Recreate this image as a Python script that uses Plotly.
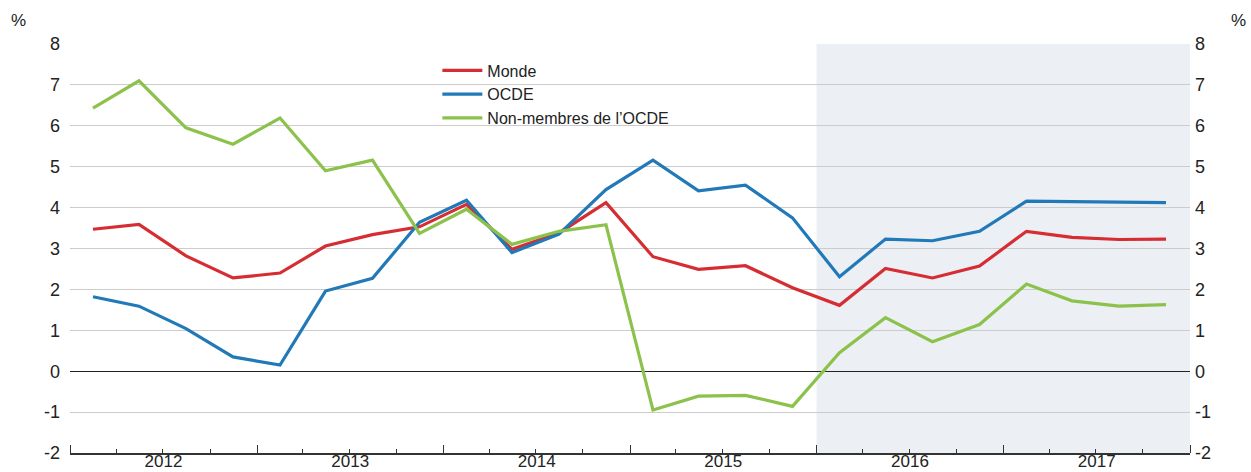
import plotly.graph_objects as go

quarters = [f"{y}-{m:02d}-15" for y in range(2012, 2018) for m in (2, 5, 8, 11)]

monde = [3.47, 3.59, 2.82, 2.28, 2.40, 3.06, 3.34, 3.53, 4.08, 2.98, 3.38, 4.12,
         2.80, 2.49, 2.58, 2.04, 1.61, 2.51, 2.28, 2.57, 3.42, 3.27, 3.22, 3.23]
ocde = [1.82, 1.59, 1.04, 0.35, 0.15, 1.96, 2.27, 3.64, 4.18, 2.90, 3.35, 4.44,
        5.16, 4.41, 4.55, 3.75, 2.31, 3.23, 3.19, 3.42, 4.16, 4.15, 4.13, 4.12]
non_ocde = [6.43, 7.10, 5.95, 5.55, 6.19, 4.90, 5.16, 3.37, 3.96, 3.10, 3.42, 3.58,
            -0.95, -0.61, -0.59, -0.86, 0.45, 1.31, 0.72, 1.14, 2.13, 1.72, 1.59, 1.63]

series_names = ["Monde", "OCDE", "Non-membres de l\u2019OCDE"]
colors = ["#d62d32", "#2179b8", "#8cc24b"]
y_ticks = list(range(-2, 9))
y_ticktext = [str(v) for v in y_ticks]
projection_start = "2016-01-01"
x_start, x_end = "2012-01-01", "2018-01-01"

FONT = "Liberation Sans, Arial, sans-serif"
fig = go.Figure()
for name, vals, col in zip(series_names, [monde, ocde, non_ocde], colors):
    fig.add_trace(go.Scatter(x=quarters, y=vals, name=name, mode="lines",
                             line=dict(color=col, width=3.2)))
# invisible trace for right axis
fig.add_trace(go.Scatter(x=quarters, y=monde, yaxis="y2", showlegend=False,
                         mode="lines", line=dict(width=0), hoverinfo="skip", opacity=0))

fig.add_shape(type="rect", xref="x", yref="paper", x0=projection_start, x1=x_end,
              y0=0, y1=1, fillcolor="#ecf0f5", line=dict(width=0), layer="below")

fig.update_layout(
    width=1251, height=472,
    margin=dict(l=70, r=61, t=44, b=19),
    paper_bgcolor="white", plot_bgcolor="white",
    font=dict(family=FONT, size=18, color="#222222"),
    showlegend=True,
    legend=dict(x=0.328, y=0.977, xanchor="left", yanchor="top",
                bgcolor="rgba(0,0,0,0)", font=dict(size=16, color="#222222"),
                tracegroupgap=0, itemwidth=40),
    xaxis=dict(type="date", range=[x_start, x_end], dtick="M12", tick0=x_start,
               tickformat="%Y", ticklabelmode="period", ticks="inside", ticklen=8,
               tickcolor="#333333", tickwidth=1.3, showgrid=False, showline=True,
               linecolor="#333333", linewidth=1.5, zeroline=False, automargin=False,
               tickfont=dict(size=17), ticklabelstandoff=-8,
               minor=dict(dtick="M3", ticks="inside", ticklen=4, tickcolor="#333333",
                          tickwidth=1, showgrid=False)),
    yaxis=dict(range=[-2, 8], tickvals=y_ticks, ticktext=y_ticktext, showgrid=True,
               gridcolor="#cccccc", gridwidth=1, zeroline=True, zerolinecolor="#222222",
               zerolinewidth=1.3, showline=False, ticks="", automargin=False,
               ticklabelstandoff=9, tickfont=dict(size=18)),
    yaxis2=dict(range=[-2, 8], tickvals=y_ticks, ticktext=y_ticktext, overlaying="y",
                side="right", showgrid=False, zeroline=False, showline=False, ticks="",
                automargin=False, ticklabelstandoff=4, tickfont=dict(size=18)),
    annotations=[
        dict(text="%", xref="paper", yref="paper", x=-0.046, y=1.058, showarrow=False,
             xanchor="center", yanchor="middle", font=dict(size=17)),
        dict(text="%", xref="paper", yref="paper", x=1.043, y=1.058, showarrow=False,
             xanchor="center", yanchor="middle", font=dict(size=17)),
    ],
)
fig.write_html("out.html", config={"displayModeBar": False},
               post_script="document.body.style.margin='0';document.body.style.overflow='hidden';")
